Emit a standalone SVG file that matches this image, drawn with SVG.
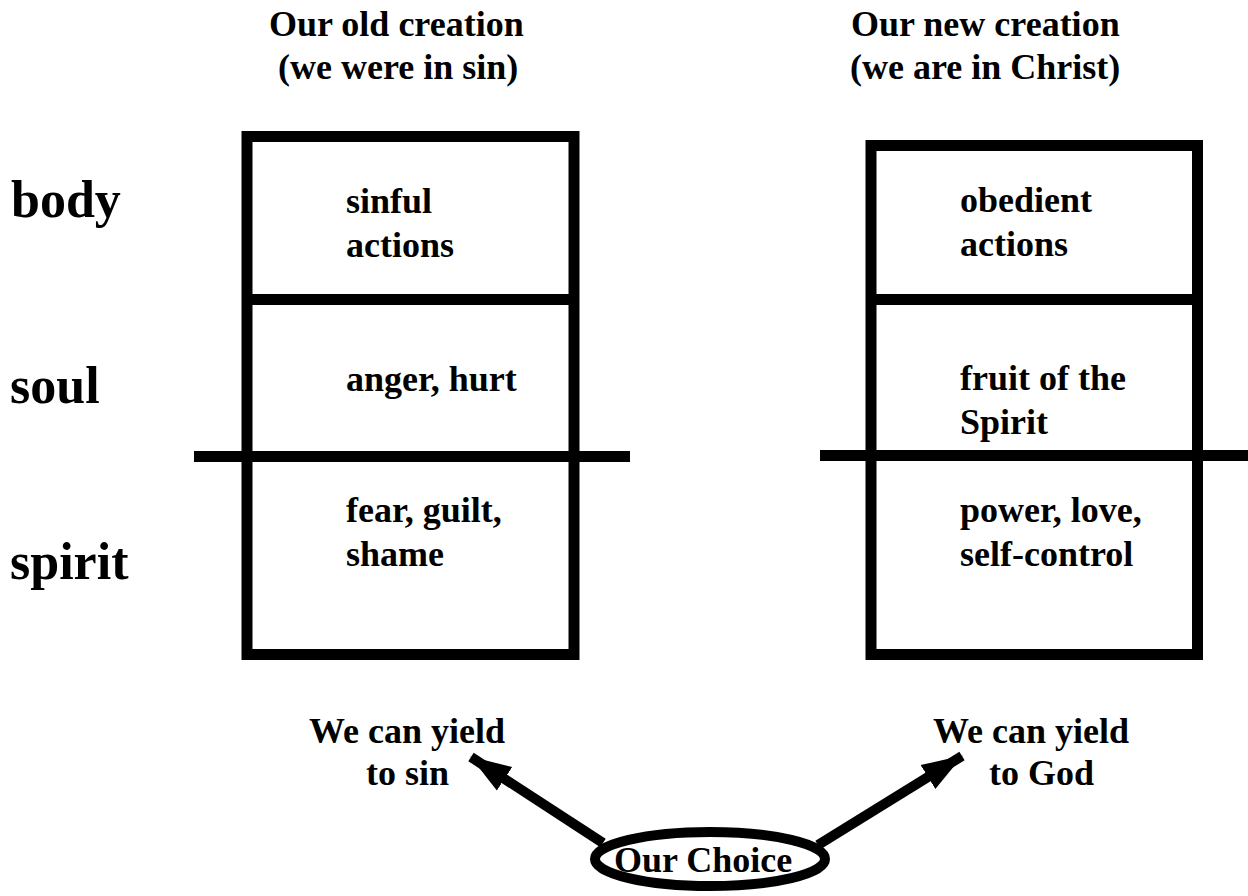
<svg xmlns="http://www.w3.org/2000/svg" width="1248" height="896" viewBox="0 0 1248 896">
<style>
text{font-family:"Liberation Serif","Times New Roman",serif;font-weight:bold;fill:#000}
.t{font-size:36px}
.big{font-size:52px}
.ln{stroke:#000;stroke-width:11;fill:none}
.ar{stroke:#000;stroke-width:10;fill:none}
</style>
<defs>
<marker id="ah" markerUnits="userSpaceOnUse" markerWidth="44" markerHeight="32" refX="40" refY="15" orient="auto">
<path d="M0,1 L41,15 L0,29 Z" fill="#000"/>
</marker>
</defs>
<rect width="1248" height="896" fill="#fff"/>
<g id="titles">
<text class="t" x="269" y="36">Our old creation</text>
<text class="t" x="278" y="79">(we were in sin)</text>
<text class="t" x="851" y="36">Our new creation</text>
<text class="t" x="850" y="79">(we are in Christ)</text>
</g>
<g id="labels">
<text class="big" x="11" y="217">body</text>
<text class="big" x="10" y="403">soul</text>
<text class="big" x="10" y="579">spirit</text>
</g>
<g id="old-box">
<rect class="ln" x="247" y="136.5" width="327" height="518"/>
<line class="ln" x1="247" y1="299.5" x2="574" y2="299.5"/>
<line class="ln" x1="194" y1="456.5" x2="630" y2="456.5"/>
<text class="t" x="346" y="213">sinful</text>
<text class="t" x="346" y="257">actions</text>
<text class="t" x="346" y="391">anger, hurt</text>
<text class="t" x="346" y="522">fear, guilt,</text>
<text class="t" x="346" y="566">shame</text>
</g>
<g id="new-box">
<rect class="ln" x="871" y="145.5" width="326.5" height="509"/>
<line class="ln" x1="871" y1="299.5" x2="1197.5" y2="299.5"/>
<line class="ln" x1="820" y1="455.5" x2="1248" y2="455.5"/>
<text class="t" x="960" y="212">obedient</text>
<text class="t" x="960" y="256">actions</text>
<text class="t" x="960" y="390">fruit of the</text>
<text class="t" x="960" y="434">Spirit</text>
<text class="t" x="960" y="522">power, love,</text>
<text class="t" x="960" y="566">self-control</text>
</g>
<g id="yield-sin">
<text class="t" x="309" y="743">We can yield</text>
<text class="t" x="366" y="785">to sin</text>
</g>
<g id="yield-god">
<text class="t" x="933" y="743">We can yield</text>
<text class="t" x="989" y="785">to God</text>
</g>
<g id="connectors">
<line class="ar" x1="603" y1="843" x2="471" y2="757" marker-end="url(#ah)"/>
<line class="ar" x1="818" y1="845" x2="962" y2="756" marker-end="url(#ah)"/>
</g>
<g id="choice">
<ellipse cx="710" cy="859" rx="115" ry="27" fill="#fff" stroke="#000" stroke-width="10"/>
<text class="t" x="614" y="872">Our Choice</text>
</g>
</svg>
